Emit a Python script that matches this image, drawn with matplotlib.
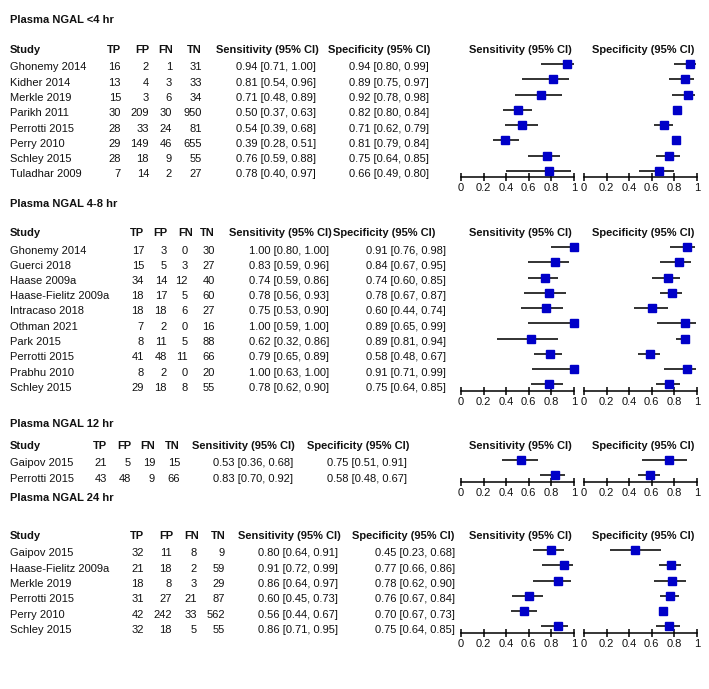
import matplotlib
matplotlib.use("Agg")
import matplotlib.pyplot as plt

plt.rcParams["font.family"] = ["Liberation Sans", "DejaVu Sans"]
plt.rcParams["font.size"] = 8

# ---- data ----
titles = ["Plasma NGAL <4 hr", "Plasma NGAL 4-8 hr", "Plasma NGAL 12 hr", "Plasma NGAL 24 hr"]

studies_4 = ["Ghonemy 2014", "Kidher 2014", "Merkle 2019", "Parikh 2011",
             "Perrotti 2015", "Perry 2010", "Schley 2015", "Tuladhar 2009"]
tp_4 = [16, 13, 15, 30, 28, 29, 28, 7]
fp_4 = [2, 4, 3, 209, 33, 149, 18, 14]
fn_4 = [1, 3, 6, 30, 24, 46, 9, 2]
tn_4 = [31, 33, 34, 950, 81, 655, 55, 27]
sens_4 = [0.94, 0.81, 0.71, 0.50, 0.54, 0.39, 0.76, 0.78]
sens_lo_4 = [0.71, 0.54, 0.48, 0.37, 0.39, 0.28, 0.59, 0.40]
sens_hi_4 = [1.00, 0.96, 0.89, 0.63, 0.68, 0.51, 0.88, 0.97]
spec_4 = [0.94, 0.89, 0.92, 0.82, 0.71, 0.81, 0.75, 0.66]
spec_lo_4 = [0.80, 0.75, 0.78, 0.80, 0.62, 0.79, 0.64, 0.49]
spec_hi_4 = [0.99, 0.97, 0.98, 0.84, 0.79, 0.84, 0.85, 0.80]

studies_48 = ["Ghonemy 2014", "Guerci 2018", "Haase 2009a", "Haase-Fielitz 2009a",
              "Intracaso 2018", "Othman 2021", "Park 2015", "Perrotti 2015",
              "Prabhu 2010", "Schley 2015"]
tp_48 = [17, 15, 34, 18, 18, 7, 8, 41, 8, 29]
fp_48 = [3, 5, 14, 17, 18, 2, 11, 48, 2, 18]
fn_48 = [0, 3, 12, 5, 6, 0, 5, 11, 0, 8]
tn_48 = [30, 27, 40, 60, 27, 16, 88, 66, 20, 55]
sens_48 = [1.00, 0.83, 0.74, 0.78, 0.75, 1.00, 0.62, 0.79, 1.00, 0.78]
sens_lo_48 = [0.80, 0.59, 0.59, 0.56, 0.53, 0.59, 0.32, 0.65, 0.63, 0.62]
sens_hi_48 = [1.00, 0.96, 0.86, 0.93, 0.90, 1.00, 0.86, 0.89, 1.00, 0.90]
spec_48 = [0.91, 0.84, 0.74, 0.78, 0.60, 0.89, 0.89, 0.58, 0.91, 0.75]
spec_lo_48 = [0.76, 0.67, 0.60, 0.67, 0.44, 0.65, 0.81, 0.48, 0.71, 0.64]
spec_hi_48 = [0.98, 0.95, 0.85, 0.87, 0.74, 0.99, 0.94, 0.67, 0.99, 0.85]

studies_12 = ["Gaipov 2015", "Perrotti 2015"]
tp_12 = [21, 43]
fp_12 = [5, 48]
fn_12 = [19, 9]
tn_12 = [15, 66]
sens_12 = [0.53, 0.83]
sens_lo_12 = [0.36, 0.70]
sens_hi_12 = [0.68, 0.92]
spec_12 = [0.75, 0.58]
spec_lo_12 = [0.51, 0.48]
spec_hi_12 = [0.91, 0.67]

studies_24 = ["Gaipov 2015", "Haase-Fielitz 2009a", "Merkle 2019",
              "Perrotti 2015", "Perry 2010", "Schley 2015"]
tp_24 = [32, 21, 18, 31, 42, 32]
fp_24 = [11, 18, 8, 27, 242, 18]
fn_24 = [8, 2, 3, 21, 33, 5]
tn_24 = [9, 59, 29, 87, 562, 55]
sens_24 = [0.80, 0.91, 0.86, 0.60, 0.56, 0.86]
sens_lo_24 = [0.64, 0.72, 0.64, 0.45, 0.44, 0.71]
sens_hi_24 = [0.91, 0.99, 0.97, 0.73, 0.67, 0.95]
spec_24 = [0.45, 0.77, 0.78, 0.76, 0.70, 0.75]
spec_lo_24 = [0.23, 0.66, 0.62, 0.67, 0.67, 0.64]
spec_hi_24 = [0.68, 0.86, 0.90, 0.84, 0.73, 0.85]

tick_vals = [0, 0.2, 0.4, 0.6, 0.8, 1.0]
tick_labels = ["0", "0.2", "0.4", "0.6", "0.8", "1"]

sections = [
    (studies_4, tp_4, fp_4, fn_4, tn_4, sens_4, sens_lo_4, sens_hi_4, spec_4, spec_lo_4, spec_hi_4),
    (studies_48, tp_48, fp_48, fn_48, tn_48, sens_48, sens_lo_48, sens_hi_48, spec_48, spec_lo_48, spec_hi_48),
    (studies_12, tp_12, fp_12, fn_12, tn_12, sens_12, sens_lo_12, sens_hi_12, spec_12, spec_lo_12, spec_hi_12),
    (studies_24, tp_24, fp_24, fn_24, tn_24, sens_24, sens_lo_24, sens_hi_24, spec_24, spec_lo_24, spec_hi_24),
]

# ---- layout (pixels) ----
W, H = 709, 689
title_y = [19, 203, 423, 497]
header_y = [49, 232, 445, 535]
# value right edges, header right edges, left of CI headers, right of CI values
cols = [
    dict(tp=121, fp=149, fn=172, tn=202, htp=121, hfp=149, hfn=173, htn=202,
         sens_h=216, sens_v=316, spec_h=328, spec_v=429),
    dict(tp=144, fp=167, fn=188, tn=215, htp=144, hfp=167, hfn=193, htn=215,
         sens_h=229, sens_v=329, spec_h=333, spec_v=446),
    dict(tp=107, fp=131, fn=155, tn=180, htp=107, hfp=131, hfn=155, htn=180,
         sens_h=192, sens_v=293, spec_h=307, spec_v=407),
    dict(tp=144, fp=172, fn=197, tn=225, htp=144, hfp=173, hfn=199, htn=226,
         sens_h=238, sens_v=338, spec_h=352, spec_v=455),
]
row_sp = 15.25
panel_x = [(461, 574), (584, 697)]

txt = "#111111"
blue = "#0000c8"


def fx(px):
    return px / W


def fy(py):
    return 1 - py / H


fig = plt.figure(figsize=(W / 100, H / 100), dpi=100)

for s, data in enumerate(sections):
    studies, tp, fp, fn, tn, sens, slo, shi, spec, plo, phi = data
    c = cols[s]
    hy = header_y[s]
    n = len(studies)
    row0 = hy + 17.5

    def put(x, y, s_, ha="left", bold=False):
        fig.text(fx(x), fy(y + 4), s_, ha=ha, va="baseline", color=txt,
                 fontweight="bold" if bold else "normal", fontsize=8)

    put(10, title_y[s], titles[s], bold=True)
    put(10, hy, "Study", bold=True)
    put(c["htp"], hy, "TP", ha="right", bold=True)
    put(c["hfp"], hy, "FP", ha="right", bold=True)
    put(c["hfn"], hy, "FN", ha="right", bold=True)
    put(c["htn"], hy, "TN", ha="right", bold=True)
    put(c["sens_h"], hy, "Sensitivity (95% CI)", bold=True)
    put(c["spec_h"], hy, "Specificity (95% CI)", bold=True)
    for i in range(n):
        y = row0 + i * row_sp
        put(10, y, studies[i])
        put(c["tp"], y, str(tp[i]), ha="right")
        put(c["fp"], y, str(fp[i]), ha="right")
        put(c["fn"], y, str(fn[i]), ha="right")
        put(c["tn"], y, str(tn[i]), ha="right")
        put(c["sens_v"], y, f"{sens[i]:.2f} [{slo[i]:.2f}, {shi[i]:.2f}]", ha="right")
        put(c["spec_v"], y, f"{spec[i]:.2f} [{plo[i]:.2f}, {phi[i]:.2f}]", ha="right")

    # forest panels
    mark0 = row0 - 2.5
    axis_y = row0 + (n - 1) * row_sp + 4
    top = mark0 - 0.6 * row_sp
    ybottom = (axis_y - mark0) / row_sp
    for p, (est, lo, hi, name) in enumerate([(sens, slo, shi, "Sensitivity (95% CI)"),
                                             (spec, plo, phi, "Specificity (95% CI)")]):
        x0, x1 = panel_x[p]
        ax = fig.add_axes([fx(x0), fy(axis_y), (x1 - x0) / W, (axis_y - top) / H])
        ax.set_xlim(0, 1)
        ax.set_ylim(ybottom, -0.6)
        rows = list(range(n))
        ax.hlines(rows, lo, hi, color="#222222", lw=1.3, clip_on=False)
        ax.plot(est, rows, "s", color=blue, ms=5.5, mec=blue, clip_on=False, zorder=3)
        for sp in ["top", "left", "right"]:
            ax.spines[sp].set_visible(False)
        ax.spines["bottom"].set_linewidth(1.1)
        ax.set_yticks([])
        ax.set_xticks(tick_vals)
        ax.set_xticklabels(tick_labels)
        ax.tick_params(axis="x", direction="inout", length=5.5, width=1.1, pad=1.5,
                       labelsize=8, labelcolor=txt)
        ax.patch.set_visible(False)
        fig.text(fx((x0 + x1) / 2 + 3), fy(hy + 4), name, ha="center", va="baseline",
                 fontweight="bold", fontsize=8, color=txt)

fig.savefig("out.png", dpi=100)
